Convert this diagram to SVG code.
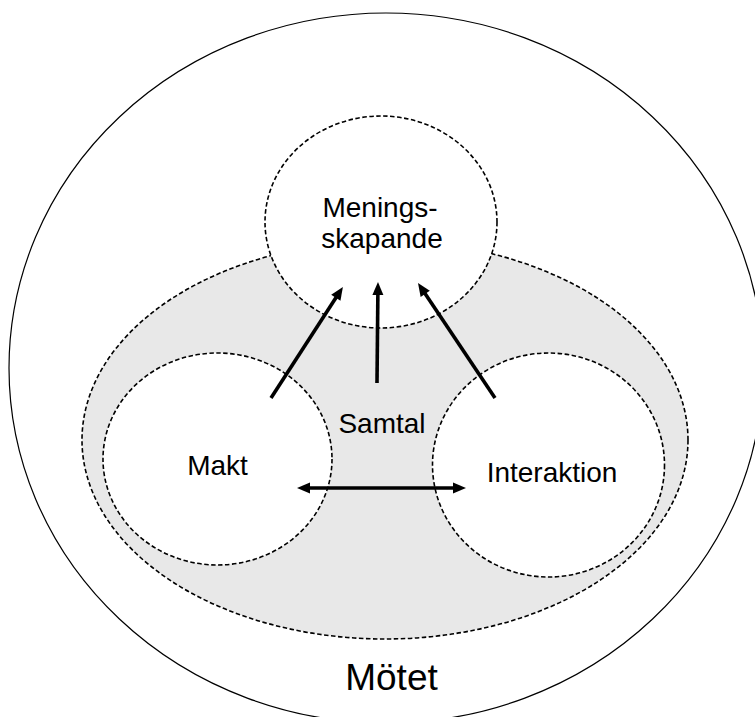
<svg xmlns="http://www.w3.org/2000/svg" width="755" height="717" viewBox="0 0 755 717">
  <style>
    .label { font-family: "Liberation Sans", Arial, Helvetica, sans-serif; fill: #000; text-anchor: middle; }
    .ring { fill: #fff; stroke: #000; stroke-width: 1.6; stroke-dasharray: 4.5 2.5; }
    .zone { fill: #e8e8e8; stroke: #000; stroke-width: 1.6; stroke-dasharray: 4.5 2.5; }
    .frame { fill: #fff; stroke: #000; stroke-width: 1.2; }
    .arrow { stroke: #000; stroke-width: 3.6; fill: none; }
  </style>
  <defs>
    <marker id="head" viewBox="0 0 13 11" refX="4" refY="5.5" markerWidth="13" markerHeight="11" markerUnits="userSpaceOnUse" orient="auto-start-reverse" overflow="visible">
      <path d="M0,0 L13,5.5 L0,11 z" fill="#000"/>
    </marker>
  </defs>

  <rect width="755" height="717" fill="#fff"/>

  <!-- outer meeting boundary -->
  <g id="motet">
    <ellipse class="frame" cx="386" cy="368" rx="377" ry="355"/>
    <text class="label" x="391.5" y="690" font-size="37">Mötet</text>
  </g>

  <!-- shaded conversation area -->
  <g id="samtal">
    <ellipse class="zone" cx="385" cy="440" rx="303" ry="199"/>
    <text class="label" x="382" y="433" font-size="28">Samtal</text>
  </g>

  <g id="makt">
    <ellipse class="ring" cx="217.5" cy="459" rx="114.5" ry="106"/>
    <text class="label" x="217.5" y="475" font-size="28">Makt</text>
  </g>

  <g id="interaktion">
    <ellipse class="ring" cx="548.5" cy="465" rx="116" ry="112"/>
    <text class="label" x="552" y="482" font-size="28">Interaktion</text>
  </g>

  <g id="meningsskapande">
    <ellipse class="ring" cx="381" cy="222" rx="116" ry="106"/>
    <text class="label" x="380" y="217" font-size="28">Menings-</text>
    <text class="label" x="382" y="248" font-size="28">skapande</text>
  </g>

  <!-- influence arrows -->
  <g id="connectors">
    <line class="arrow" x1="271" y1="398" x2="338" y2="294.5" marker-end="url(#head)"/>
    <line class="arrow" x1="377" y1="383" x2="377.9" y2="291" marker-end="url(#head)"/>
    <line class="arrow" x1="495" y1="398" x2="423" y2="290.5" marker-end="url(#head)"/>
    <line class="arrow" x1="306" y1="488" x2="457" y2="488" marker-start="url(#head)" marker-end="url(#head)"/>
  </g>
</svg>
